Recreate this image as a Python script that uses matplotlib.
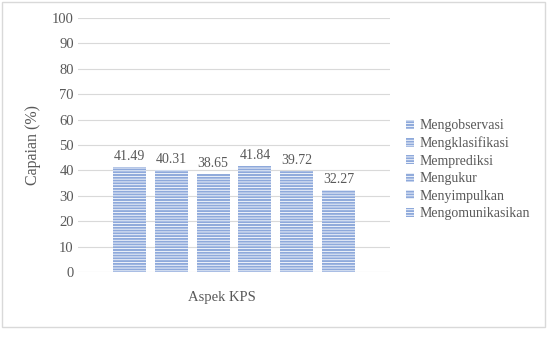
import matplotlib
matplotlib.use("Agg")
import matplotlib.pyplot as plt
from matplotlib.patches import Rectangle

categories = ["Mengobservasi", "Mengklasifikasi", "Memprediksi", "Mengukur", "Menyimpulkan", "Mengomunikasikan"]
values = [41.49, 40.31, 38.65, 41.84, 39.72, 32.27]
yticks = [0, 10, 20, 30, 40, 50, 60, 70, 80, 90, 100]

plt.rcParams['font.family'] = ['Liberation Serif', 'DejaVu Serif']
plt.rcParams['hatch.color'] = 'white'
plt.rcParams['hatch.linewidth'] = 0.6
txt = '#595959'

fig = plt.figure(figsize=(5.48, 3.37), dpi=100)
fig.patches.append(Rectangle((2/548, 1-327/337), 543/548, 325/337, transform=fig.transFigure,
                             fill=False, edgecolor='#d9d9d9', linewidth=1))
ax = fig.add_axes([78/548, 1-272/337, 312/548, 254/337])

bar_color = '#8EA9DB'
for i, (c, v) in enumerate(zip(categories, values)):
    ax.bar(i, v, width=0.79, color=bar_color, hatch='------', edgecolor='white', linewidth=0, label=c)
    ax.text(i, v + 1.5, f"{v:.2f}", ha='center', va='bottom', fontsize=10, color=txt)

ax.set_xlim(-1.23, 6.23)
ax.set_ylim(0, 100)
ax.set_yticks(yticks)
ax.set_yticklabels([str(t) for t in yticks], fontsize=10.5, color=txt)
ax.set_xticks([])
ax.tick_params(axis='y', length=0, pad=3)
ax.grid(axis='y', color='#d9d9d9', linewidth=0.8)
ax.set_axisbelow(True)
for s in ax.spines.values():
    s.set_visible(False)
ax.set_ylabel("Capaian (%)", fontsize=11.5, color=txt, labelpad=8)
ax.text(222/548, 1-298/337, "Aspek KPS", ha='center', va='center', fontsize=10.5, color=txt,
        transform=fig.transFigure)

leg = ax.legend(loc='upper left', bbox_to_anchor=(406/548, 1-119/337), bbox_transform=fig.transFigure,
                frameon=False, fontsize=10, handlelength=0.6, handleheight=0.6, handletextpad=0.4,
                labelspacing=0.32, borderpad=0, borderaxespad=0)
for t in leg.get_texts():
    t.set_color(txt)

fig.savefig("out.png", dpi=100)
